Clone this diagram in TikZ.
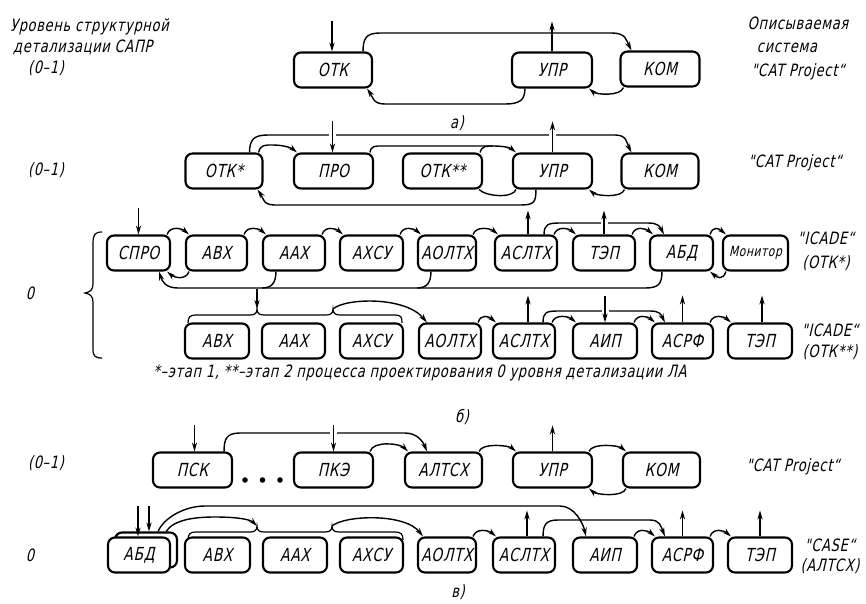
\documentclass[tikz,border=0pt]{standalone}
\usepackage{fontspec}
\newfontfamily\gost{DejaVu Sans Condensed}[FakeSlant=0.22, FakeStretch=0.85, LetterSpace=4]
\usetikzlibrary{arrows.meta,calc}
% small arcs between neighbouring blocks
\newcommand\toparc[2]{\draw[arr] ([xshift=-4pt]#1.north east) .. controls +(3,-9) and +(-7,-6) .. ([xshift=4pt]#2.north west);}
\newcommand\botarc[2]{\draw[arr] ([xshift=4pt]#1.south west) .. controls +(-3,9) and +(7,6) .. ([xshift=-4pt]#2.south east);}
% input (down) and output (up) arrows on the top edge of a block
\newcommand\inarr[3][0pt]{\draw[arr,cross] ([xshift=#1,yshift=#3]#2.north) -- ([xshift=#1]#2.north);}
\newcommand\outarr[3][0pt]{\draw[arr,cross] ([xshift=#1]#2.north) -- ([xshift=#1,yshift=#3]#2.north);}
\begin{document}
\begin{tikzpicture}[x=1pt,y=-1pt,
  box/.style={draw, line width=2.1pt, rounded corners=7pt, minimum height=35pt,
    inner sep=1pt, fill=white, font=\gost\fontsize{18}{20}\selectfont},
  conn/.style={line width=1.4pt},
  arr/.style={conn, -{Stealth[length=9pt,width=5.2pt]}},
  cross/.style={preaction={draw=white,line width=7pt,-}},
  lbl/.style={font=\gost\fontsize{17}{20}\selectfont, inner sep=0pt},
  brace/.style={line width=1.2pt}]
\useasboundingbox (0,0) rectangle (866,603);

% ---------------- a) ----------------
\node[box,minimum width=78] (otkA) at (333,70) {ОТК};
\node[box,minimum width=80] (uprA) at (552,70) {УПР};
\node[box,minimum width=79] (komA) at (660,69) {КОМ};
\inarr[-1pt]{otkA}{30pt}
\outarr{uprA}{30pt}
\draw[arr] ([xshift=-10pt]otkA.north east) .. controls +(0,-13) and +(-14,0) .. (380,33) -- (612,33)
  .. controls +(14,0) and +(-5,-10) .. ([xshift=12pt]komA.north west);
\draw[arr] ([xshift=14pt]uprA.south west) .. controls +(0,12) and +(14,0) .. (505,104) -- (385,104)
  .. controls +(-12,0) and +(6,9) .. ([xshift=-6pt]otkA.south east);
\botarc{komA}{uprA}

% ---------------- b) upper level ----------------
\node[box,minimum width=77] (otks)  at (224,171) {ОТК*};
\node[box,minimum width=79] (pro)   at (333.5,171) {ПРО};
\node[box,minimum width=79] (otkss) at (442.5,171) {ОТК**};
\node[box,minimum width=79] (uprB)  at (552.5,171) {УПР};
\node[box,minimum width=77] (komB)  at (660,171) {КОМ};
\draw[arr] ([xshift=-14pt]otks.north east) .. controls +(0,-13) and +(-14,0) .. (268,135) -- (615,135)
  .. controls +(12,0) and +(-5,-10) .. ([xshift=11pt]komB.north west);
\draw[arr] ([xshift=-5pt]otks.north east) .. controls +(2,-8) and +(-8,0) .. (273,145)
  .. controls +(9,0) and +(-6,-5) .. ([xshift=4pt]pro.north west);
\draw[arr] ([xshift=-4pt]pro.north east) .. controls +(1,-7) and +(-8,0) .. (383,146) -- (493,146)
  .. controls +(10,0) and +(-6,-5) .. ([xshift=4pt]uprB.north west);
\draw[conn] ([xshift=-3pt]otkss.north east) .. controls +(2,-7) and +(-6,0) .. (493,146);
\draw[conn] ([xshift=4pt]uprB.south west) .. controls +(-3,9) and +(7,7) .. ([xshift=-4pt]otkss.south east);
\draw[arr] ([xshift=24pt]uprB.south west) .. controls +(0,13) and +(14,0) .. (520,205) -- (275,205)
  .. controls +(-12,0) and +(6,9) .. ([xshift=-6pt]otks.south east);
\botarc{komB}{uprB}
\inarr[-1pt]{pro}{31pt}
\outarr{uprB}{31pt}

% ---------------- b) level 0, stage 1 ----------------
\begin{scope}[every node/.append style={minimum height=37pt}]
\node[box,minimum width=63] (spro)   at (138.5,253) {СПРО};
\node[box,minimum width=61] (avx1)   at (216.5,253) {АВХ};
\node[box,minimum width=62] (aax1)   at (294,253) {ААХ};
\node[box,minimum width=63] (axsu1)  at (371.5,253) {АХСУ};
\node[box,minimum width=58] (aoltx1) at (447,253) {АОЛТХ};
\node[box,minimum width=62] (asltx1) at (526,253) {АСЛТХ};
\node[box,minimum width=62] (tep1)   at (604,253) {ТЭП};
\node[box,minimum width=63] (abd1)   at (681.5,253) {АБД};
\node[box,minimum width=65,font=\gost\fontsize{14}{16}\selectfont] (mon) at (755.5,253) {Монитор};
\end{scope}
\inarr{spro}{26pt}
\toparc{spro}{avx1}
\toparc{avx1}{aax1}
\toparc{aax1}{axsu1}
\toparc{axsu1}{aoltx1}
\toparc{aoltx1}{asltx1}
\toparc{asltx1}{tep1}
\toparc{tep1}{abd1}
\toparc{abd1}{mon}
\botarc{avx1}{spro}
\botarc{mon}{abd1}
\draw[arr] ([xshift=13pt]abd1.south west) .. controls +(0,12) and +(14,0) .. (645,288) -- (178,288)
  .. controls +(-12,0) and +(3,10) .. ([xshift=-12pt]spro.south east);
\draw[conn] ([xshift=14pt]aax1.south west) .. controls +(0,11) and +(10,0) .. (262,288);
\draw[conn] ([xshift=14pt]aoltx1.south west) .. controls +(0,11) and +(10,0) .. (417,288);
\draw[arr] ([xshift=-14pt]asltx1.north east) .. controls +(0,-10) and +(-12,0) .. (560,223) -- (648,223)
  .. controls +(10,0) and +(-4,-8) .. ([xshift=15pt]abd1.north west);
\outarr[2pt]{asltx1}{24pt}
\outarr{tep1}{24pt}

% ---------------- b) level 0, stage 2 ----------------
\node[box,minimum width=64] (avx2)   at (217,341) {АВХ};
\node[box,minimum width=63] (aax2)   at (293.5,341) {ААХ};
\node[box,minimum width=63] (axsu2)  at (371.5,341) {АХСУ};
\node[box,minimum width=62] (aoltx2) at (450,341) {АОЛТХ};
\node[box,minimum width=62] (asltx2) at (524,341) {АСЛТХ};
\node[box,minimum width=64] (aip2)   at (605,341) {АИП};
\node[box,minimum width=61] (asrf2)  at (682.5,341) {АСРФ};
\node[box,minimum width=64] (tep2)   at (760,341) {ТЭП};
\draw[brace] (188,323) .. controls (188,317) and (190,315) .. (196,315) -- (250,315)
  .. controls (255,315) and (257,313) .. (257,309) coordinate (c1)
  .. controls (257,313) and (259,315) .. (264,315) -- (326,315)
  .. controls (331,315) and (333,313) .. (333,309) coordinate (c2)
  .. controls (333,313) and (335,315) .. (340,315) -- (395,315)
  .. controls (401,315) and (402,317) .. (402,323);
\draw[arr] ([yshift=20pt]c1) -- (c1);
\draw[arr] (c2) .. controls (345,298) and (405,296) .. ([xshift=9pt]aoltx2.north west);
\toparc{aoltx2}{asltx2}
\toparc{asltx2}{aip2}
\toparc{aip2}{asrf2}
\toparc{asrf2}{tep2}
\draw[arr] ([xshift=-13pt]asltx2.north east) .. controls +(0,-10) and +(-12,0) .. (558,311) -- (650,311)
  .. controls +(10,0) and +(-4,-8) .. ([xshift=14pt]asrf2.north west);
\inarr{aip2}{26pt}
\outarr[4pt]{asltx2}{27pt}
\outarr{asrf2}{27pt}
\outarr[2pt]{tep2}{27pt}

% brace of level 0
\draw[brace] (102,232) .. controls (95,232) and (93,235) .. (93,242) -- (93,284)
  .. controls (93,290) and (90,292) .. (85,293) .. controls (90,294) and (93,296) .. (93,302)
  -- (93,349) .. controls (93,356) and (95,358) .. (102,358);

% ---------------- c) upper level ----------------
\node[box,minimum width=79] (psk)   at (192.5,470) {ПСК};
\node[box,minimum width=79] (pke)   at (333.5,470) {ПКЭ};
\node[box,minimum width=77] (altsx) at (443.5,470) {АЛТСХ};
\node[box,minimum width=79] (uprC)  at (552.5,470) {УПР};
\node[box,minimum width=77] (komC)  at (661.5,470) {КОМ};
\fill (245,480) circle (2.8pt) (262.5,480) circle (2.8pt) (280,480) circle (2.8pt);
\draw[arr] ([xshift=-9pt]psk.north east) .. controls +(0,-12) and +(-14,0) .. (240,433) -- (405,433)
  .. controls +(12,0) and +(-4,-10) .. ([xshift=23pt]altsx.north west);
\inarr[2pt]{psk}{26pt}
\inarr{pke}{26pt}
\draw[arr] ([xshift=-4pt]pke.north east) .. controls +(3,-11) and +(-8,-8) .. ([xshift=4pt]altsx.north west);
\toparc{altsx}{uprC}
\toparc{uprC}{komC}
\botarc{komC}{uprC}
\outarr{uprC}{26pt}

% ---------------- c) level 0 ----------------
\begin{scope}[every node/.append style={minimum height=34pt}]
\node[box,minimum width=62] (abdb)   at (146,550) {};
\node[box,minimum width=62] (abd2)   at (139,555) {АБД};
\node[box,minimum width=65] (avx3)   at (217.5,555) {АВХ};
\node[box,minimum width=64] (aax3)   at (295,555) {ААХ};
\node[box,minimum width=63] (axsu3)  at (371.5,555) {АХСУ};
\node[box,minimum width=58] (aoltx3) at (447,555) {АОЛТХ};
\node[box,minimum width=62] (asltx3) at (524,555) {АСЛТХ};
\node[box,minimum width=64] (aip3)   at (605,555) {АИП};
\node[box,minimum width=61] (asrf3)  at (682.5,555) {АСРФ};
\node[box,minimum width=64] (tep3)   at (760,555) {ТЭП};
\end{scope}
\draw[brace] (188,540) .. controls (188,534) and (190,532) .. (196,532) -- (250,532)
  .. controls (255,532) and (257,530) .. (257,526) coordinate (c3)
  .. controls (257,530) and (259,532) .. (264,532) -- (325,532)
  .. controls (330,532) and (332,530) .. (332,526) coordinate (c4)
  .. controls (332,530) and (334,532) .. (339,532) -- (395,532)
  .. controls (401,532) and (403,534) .. (403,540);
\draw[arr] ([xshift=-20pt]abdb.north east) .. controls +(6,-14) and +(-20,0) .. (205,506) -- (560,506)
  .. controls +(14,0) and +(-3,-14) .. ([xshift=14pt]aip3.north west);
\draw[arr] ([xshift=-12pt]abdb.north east) .. controls +(8,-12) and +(-20,0) .. (215,517)
  .. controls +(25,0) and +(-6,-6) .. (c3);
\draw[arr] ([xshift=-1pt,yshift=30pt]abd2.north) -- ([xshift=-1pt]abd2.north);
\draw[arr] ([xshift=3pt,yshift=25pt]abdb.north) -- ([xshift=3pt]abdb.north);
\draw[arr] (c4) .. controls (345,515) and (405,513) .. ([xshift=6pt]aoltx3.north west);
\toparc{aoltx3}{asltx3}
\toparc{aip3}{asrf3}
\toparc{asrf3}{tep3}
\draw[arr] ([xshift=-13pt]asltx3.north east) .. controls +(0,-12) and +(-12,0) .. (558,520) -- (650,520)
  .. controls +(10,0) and +(-4,-10) .. ([xshift=14pt]asrf3.north west);
\outarr[3pt]{asltx3}{26pt}
\outarr{asrf3}{26pt}
\outarr{tep3}{26pt}

% ---------------- captions ----------------
\node[lbl,anchor=west] (h1) at (10,27) {Уровень структурной};
\node[lbl,anchor=west] (h2) at (13,47) {детализации САПР};
\node[lbl] (lvA) at (46,68) {(0–1)};
\node[lbl] (d1) at (798,23) {Описываемая};
\node[lbl] (d2) at (787,48) {система};
\node[lbl] (d3) at (798,72) {"CAT Project“};
\node[lbl] (capA) at (457,123) {а)};
\node[lbl] (lvB) at (46,170) {(0–1)};
\node[lbl] (sysB) at (795,163) {"CAT Project“};
\node[lbl] (lv0B) at (30,293) {0};
\node[lbl] (sysB1) at (826,238) {"ICADE“};
\node[lbl] (sysB1s) at (826,263) {(ОТК*)};
\node[lbl] (sysB2) at (830,330) {"ICADE“};
\node[lbl] (sysB2s) at (830,352) {(ОТК**)};
\node[lbl] (note) at (420,373) {*–этап 1, **–этап 2 процесса проектирования 0 уровня детализации ЛА};
\node[lbl] (capB) at (462,417) {б)};
\node[lbl] (lvC) at (46,463) {(0–1)};
\node[lbl] (sysC) at (793,467) {"CAT Project“};
\node[lbl] (lv0C) at (30,555) {0};
\node[lbl] (sysC1) at (830,545) {"CASE“};
\node[lbl] (sysC1s) at (830,566) {(АЛТСХ)};
\node[lbl] (capC) at (458,592) {в)};
\end{tikzpicture}
\end{document}
